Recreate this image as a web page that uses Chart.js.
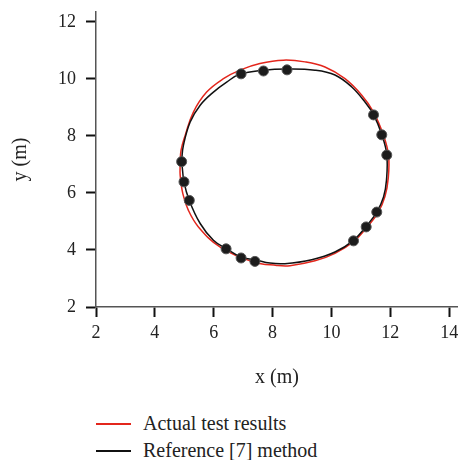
<!DOCTYPE html>
<html lang="en">
<head>
<meta charset="UTF-8">
<title>Trajectory comparison</title>
<style>
    body { margin: 0; background: #fff; font-family: "Liberation Serif", serif; }
    .wrap { position: relative; width: 458px; height: 460px; }
    #chartBox { position: absolute; left: 0; top: 0; }
    .legend { position: absolute; left: 96px; top: 410px; font-size: 20px; color: #222; }
    .legend div { display: flex; align-items: center; height: 27px; }
    .legend .line { display: inline-block; width: 35px; height: 2px; margin-right: 12px; }
</style>
</head>
<body>
<div class="wrap">
    <canvas id="chartBox" width="458" height="395"></canvas>
    <div class="legend" id="legend"></div>
</div>

<script src="https://cdn.jsdelivr.net/npm/chart.js"></script>
<script>
    // tick labels
    const xTicks = [2, 4, 6, 8, 10, 12, 14];
    const yTicks = [2, 4, 6, 8, 10, 12];

    // measured points
    const pointX = [4.91, 4.99, 5.17, 6.42, 6.93, 7.40, 10.75, 11.18, 11.54, 11.88, 11.71, 11.43, 8.49, 7.69, 6.93];
    const pointY = [7.10, 6.39, 5.74, 4.04, 3.72, 3.60, 4.32, 4.81, 5.33, 7.33, 8.04, 8.74, 10.32, 10.28, 10.18];

    // actual test results (red loop)
    const actualX = [4.86, 4.89, 5.03, 5.31, 5.76, 6.33, 6.89, 7.57, 8.37, 9.10, 9.78, 10.46, 11.03, 11.43, 11.77, 11.94,
        11.93, 11.82, 11.59, 11.21, 10.77, 10.12, 9.44, 8.59, 8.14, 7.35, 6.21, 5.48, 5.14, 4.95, 4.86, 4.86];
    const actualY = [7.04, 7.50, 8.02, 8.84, 9.54, 10.01, 10.31, 10.54, 10.66, 10.60, 10.42, 10.01, 9.43, 8.84, 8.02, 7.32,
        6.52, 5.88, 5.32, 4.80, 4.31, 3.88, 3.62, 3.45, 3.46, 3.58, 4.11, 4.81, 5.39, 5.98, 6.62, 7.04];

    // reference [7] method (black loop)
    const refX = [4.91, 4.97, 5.20, 5.54, 5.99, 6.44, 6.89, 7.69, 8.49, 9.44, 10.12, 10.69, 11.14, 11.43, 11.71, 11.88,
        11.87, 11.77, 11.54, 11.18, 10.75, 10.12, 9.33, 8.42, 7.91, 7.40, 6.93, 6.42, 5.99, 5.54, 5.17, 4.99, 4.91];
    const refY = [7.15, 7.67, 8.49, 9.08, 9.54, 9.89, 10.17, 10.31, 10.35, 10.31, 10.14, 9.72, 9.19, 8.75, 8.05, 7.35,
        6.45, 5.86, 5.33, 4.83, 4.34, 3.93, 3.66, 3.52, 3.54, 3.66, 3.75, 4.05, 4.34, 4.93, 5.74, 6.39, 7.15];

    const zip = (xs, ys) => xs.map((x, i) => ({ x: x, y: ys[i] }));
    const tickFont = { family: '"Liberation Serif", serif', size: 18 };
    const titleFont = { family: '"Liberation Serif", serif', size: 20 };
    const textColor = '#222';

    const lines = [
        { label: 'Actual test results', color: '#e3261c', data: zip(actualX, actualY) },
        { label: 'Reference [7] method', color: '#111', data: zip(refX, refY) }
    ];

    // datasets drawn last-to-first, so points go first to sit on top
    const datasets = [{
        label: 'points',
        data: zip(pointX, pointY),
        pointRadius: 5,
        pointBackgroundColor: '#1c1c1c',
        pointBorderColor: '#555',
        pointBorderWidth: 1,
        showLine: false
    }];
    lines.slice().reverse().forEach(l => {
        datasets.push({
            label: l.label,
            data: l.data,
            showLine: true,
            borderColor: l.color,
            borderWidth: 1.5,
            pointRadius: 0,
            tension: 0.4,
            fill: false
        });
    });

    function axis(min, max, ticks, title, isX) {
        return {
            type: 'linear',
            min: min,
            max: max,
            afterBuildTicks: s => { s.ticks = ticks.map(v => ({ value: v })); },
            afterFit: s => {
                if (isX) { s.height = 88; s.paddingLeft = 0; s.paddingRight = 0; }
                else { s.width = 96; s.paddingTop = 0; s.paddingBottom = 0; }
            },
            grid: { drawOnChartArea: false, drawTicks: true, tickLength: 10, tickWidth: 2, tickColor: '#111' },
            border: { color: '#555', width: 1.5 },
            ticks: { font: tickFont, color: textColor, padding: isX ? 5 : 10, maxRotation: 0 },
            title: {
                display: true, text: title, font: titleFont, color: textColor,
                padding: isX ? { top: 0, bottom: 5 } : { top: 9, bottom: 0 }
            }
        };
    }

    new Chart(document.getElementById('chartBox'), {
        type: 'scatter',
        data: { datasets: datasets },
        options: {
            responsive: false,
            animation: false,
            devicePixelRatio: 1,
            layout: { autoPadding: false, padding: { top: 12, right: 0, left: 0, bottom: 0 } },
            plugins: { legend: { display: false }, tooltip: { enabled: false } },
            scales: {
                x: axis(2, 14.3, xTicks, 'x (m)', true),
                y: axis(2, 12.35, yTicks, 'y (m)', false)
            }
        }
    });

    const legend = document.getElementById('legend');
    lines.forEach(l => {
        const row = document.createElement('div');
        row.innerHTML = '<span class="line" style="background:' + l.color + '"></span><span>' + l.label + '</span>';
        legend.appendChild(row);
    });
</script>
</body>
</html>
